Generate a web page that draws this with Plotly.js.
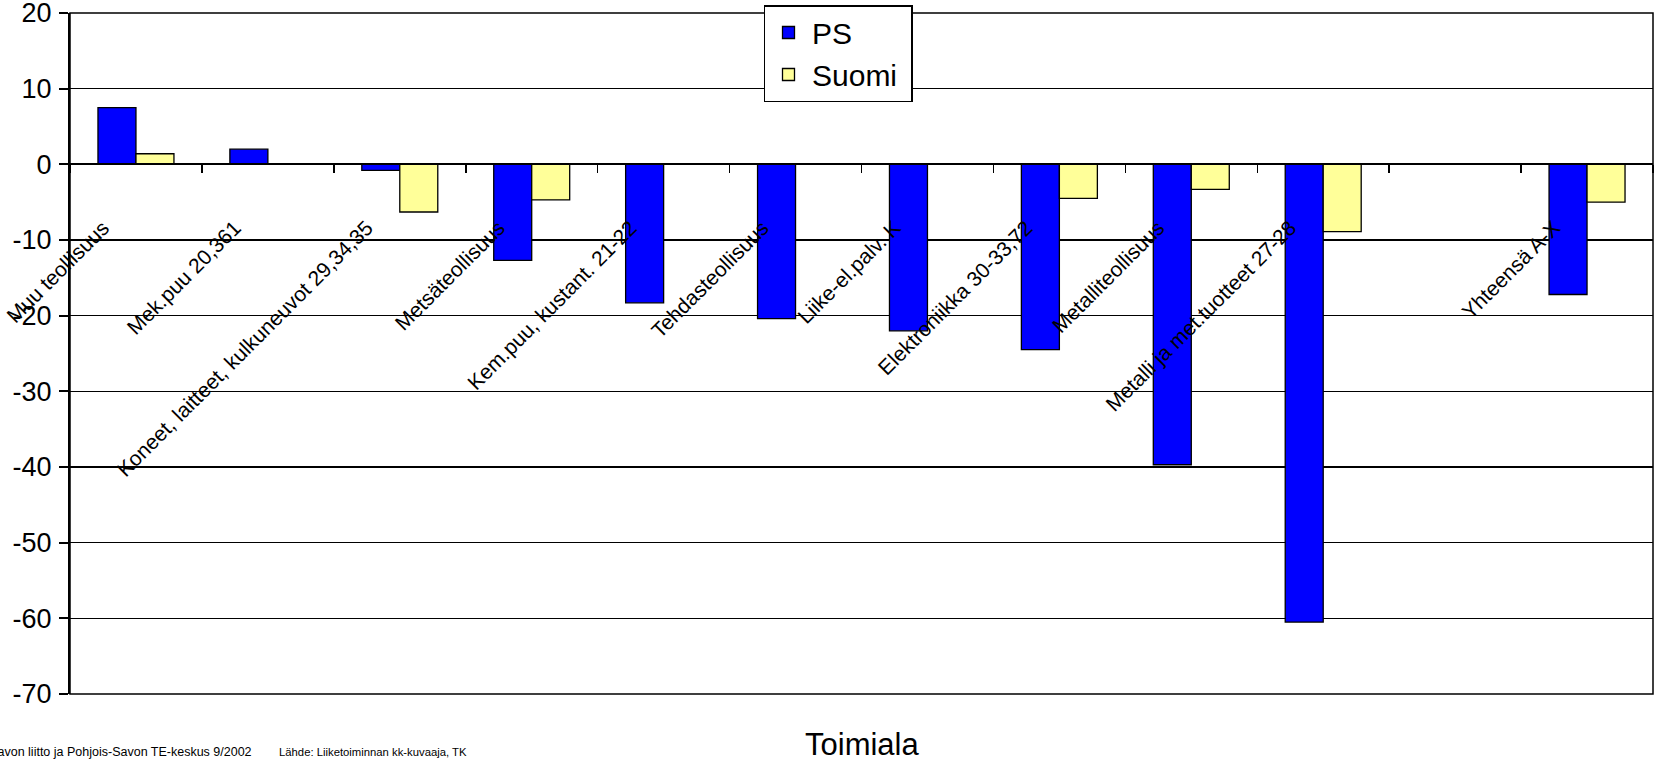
<!DOCTYPE html>
<html>
<head>
<meta charset="utf-8">
<script src="https://cdn.plot.ly/plotly-3.0.1.min.js"></script>
<style>html,body{margin:0;padding:0;background:#fff;}#chart{width:1654px;height:759px;}</style>
</head>
<body>
<div id="chart"></div>
<script>
const categories = ['Muu teollisuus', 'Mek.puu 20,361', 'Koneet, laitteet, kulkuneuvot 29,34,35', 'Metsäteollisuus', 'Kem.puu, kustant. 21-22', 'Tehdasteollisuus', 'Liike-el.palv. K', 'Elektroniikka 30-33,72', 'Metalliteollisuus', 'Metalli ja met.tuotteet 27-28', ' ', 'Yhteensä A-X'];
const psValues = [7.5, 2.0, -0.8, -12.7, -18.3, -20.4, -22.0, -24.5, -39.7, -60.5, null, -17.2];
const suomiValues = [1.4, 0, -6.3, -4.7, 0, 0, 0, -4.5, -3.3, -8.9, null, -5.0];
const seriesNames = ['PS', 'Suomi'];
const yTickValues = [-70, -60, -50, -40, -30, -20, -10, 0, 10, 20];
const xTitle = 'Toimiala';
const footerLeft = 'Pohjois-Savon liitto ja Pohjois-Savon TE-keskus 9/2002';
const footerRight = 'Lähde: Liiketoiminnan kk-kuvaaja, TK';

const FONT = '"Liberation Sans", Arial, sans-serif';
const yMin = -70, yMax = 20;
const PLOT_L = 70, PLOT_W = 1583, PLOT_T = 13, PLOT_H = 681;
const px2paper = p => (p - PLOT_L) / PLOT_W;
const py2paper = p => (PLOT_T + PLOT_H - p) / PLOT_H;

const traces = [
  {type: 'bar', name: seriesNames[0] + '\u00a0', x: categories, y: psValues,
   marker: {color: '#0000FF', line: {color: '#000', width: 1.3}}},
  {type: 'bar', name: seriesNames[1] + '\u00a0', x: categories, y: suomiValues,
   marker: {color: '#FFFF99', line: {color: '#000', width: 1.3}}}
];

const layout = {
  width: 1654, height: 759,
  margin: {l: PLOT_L, r: 1, t: PLOT_T, b: 65},
  paper_bgcolor: '#fff', plot_bgcolor: '#fff',
  font: {family: FONT, color: '#000'},
  barmode: 'group', bargap: 0.424, bargroupgap: 0,
  showlegend: true,
  legend: {x: px2paper(838), y: py2paper(5), xanchor: 'center', yanchor: 'top',
    bgcolor: '#fff', bordercolor: '#000', borderwidth: 1.5,
    font: {size: 30, family: FONT}, traceorder: 'normal', itemwidth: 37},
  xaxis: {type: 'category', anchor: 'free', position: (0 - yMin) / (yMax - yMin),
    showline: true, linecolor: '#000', linewidth: 2,
    ticks: 'outside', tickson: 'boundaries', ticklen: 8, tickcolor: '#000', tickwidth: 1.5,
    tickangle: -45, tickfont: {size: 21, family: FONT},
    ticklabelstandoff: 42, ticklabelshift: -33, ticklabeloverflow: 'allow',
    showgrid: false, zeroline: false, fixedrange: true},
  yaxis: {range: [yMin, yMax], tickvals: yTickValues, ticktext: yTickValues.map(String),
    showline: true, linecolor: '#000', linewidth: 2,
    ticks: 'outside', ticklen: 9, tickcolor: '#000', tickwidth: 2,
    tickfont: {size: 27, family: FONT}, ticklabeloverflow: 'allow', ticklabelstandoff: 2,
    showgrid: true, gridcolor: '#000', gridwidth: 1.6,
    zeroline: false, fixedrange: true},
  shapes: [{type: 'rect', xref: 'paper', yref: 'paper', x0: 0, x1: 1, y0: 0, y1: 1,
    line: {color: '#000', width: 1.5}, fillcolor: 'rgba(0,0,0,0)', layer: 'below'}],
  annotations: [
    {text: xTitle, xref: 'paper', yref: 'paper', x: px2paper(862), y: py2paper(745),
     xanchor: 'center', yanchor: 'middle', showarrow: false, font: {size: 31, family: FONT}},
    {text: footerLeft, xref: 'paper', yref: 'paper', x: px2paper(254), y: py2paper(752),
     xanchor: 'right', yanchor: 'middle', showarrow: false, font: {size: 12.5, family: FONT}},
    {text: footerRight, xref: 'paper', yref: 'paper', x: px2paper(277), y: py2paper(752),
     xanchor: 'left', yanchor: 'middle', showarrow: false, font: {size: 11.3, family: FONT}}
  ]
};

Plotly.newPlot('chart', traces, layout, {staticPlot: true, displayModeBar: false});
</script>
</body>
</html>
